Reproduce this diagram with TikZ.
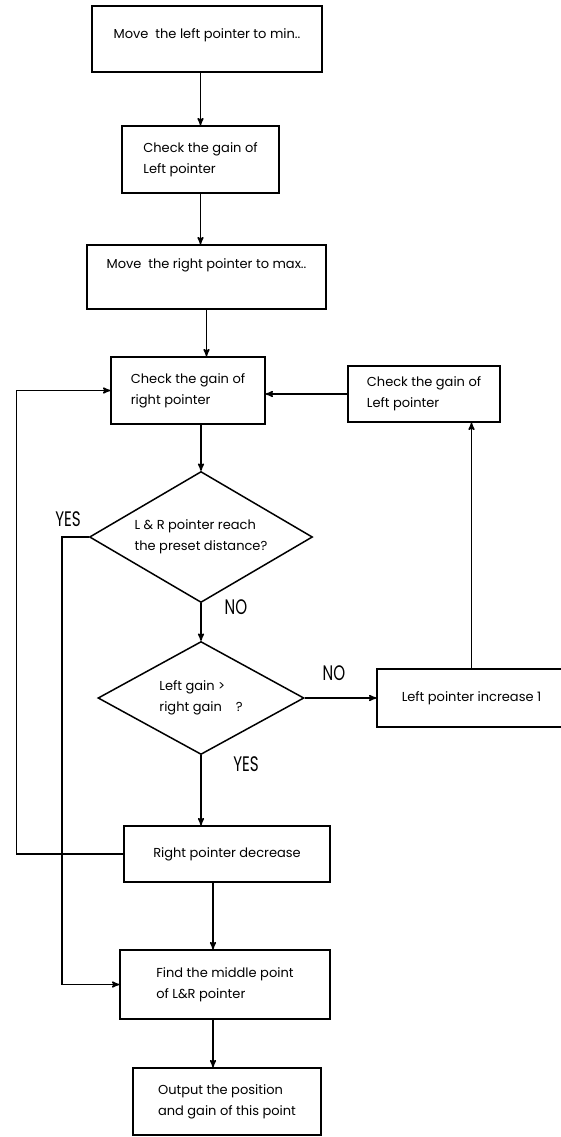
\documentclass[tikz,border=0pt]{standalone}
\usepackage{fontspec}
\setmainfont{Poppins}
\usetikzlibrary{arrows}
\usetikzlibrary{shapes.geometric}

\tikzset{
 blk/.style={draw, line width=1.5pt, align=left, inner sep=0pt, font=\fontsize{13}{21}\selectfont},
 dec/.style={draw, diamond, aspect=1.7, line width=1.5pt, align=left, inner sep=0pt, font=\fontsize{13}{21}\selectfont},
 ans/.style={font=\fontsize{21}{21}\selectfont},
 flow/.style={line width=1.5pt, ->, >=stealth'}
}

\begin{document}
\begin{tikzpicture} [x=1pt, y=-1pt]
\useasboundingbox (0,0) rectangle (561,1137);
% main column
\node[blk, minimum width=230, minimum height=66] (b1) at (207,39) {Move~~the left pointer to min..\\[-16pt] \strut};
\node[blk, minimum width=157, minimum height=67] (b2) at (200.5,159.5) {Check the gain of\\Left pointer};
\node[blk, minimum width=239, minimum height=64] (b3) at (206.5,277) {Move~~the right pointer to max..\\ \strut};
\node[blk, minimum width=154, minimum height=67] (b4) at (188,390.5) {Check the gain of\\right pointer};
\node[blk, minimum width=152, minimum height=56] (b5) at (424,394) {Check the gain of\\Left pointer};
\node[dec, minimum width=223, minimum height=131] (d1) at (201,537) {L \& R pointer reach\\the preset distance?};
\node[dec, minimum width=206, minimum height=113] (d2) at (201,698) {Left gain >\\right gain~~~~?};
\node[blk, minimum width=189, minimum height=58] (b6) at (471.5,698) {Left pointer increase 1};
\node[blk, minimum width=206, minimum height=56] (b7) at (227,854) {Right pointer decrease};
\node[blk, minimum width=210, minimum height=69] (b8) at (225,984.5) {Find the middle point\\of L\&R pointer};
\node[blk, minimum width=188, minimum height=67] (b9) at (227,1101.5) {Output the position\\and gain of this point};
% yes / no
\node[ans] (y1) at (68,519) {\scalebox{.72}[1]{YES}};
\node[ans] (n1) at (236,607) {\scalebox{.72}[1]{NO}};
\node[ans] (n2) at (334,673) {\scalebox{.72}[1]{NO}};
\node[ans] (y2) at (246,764) {\scalebox{.72}[1]{YES}};
% connectors
\draw[flow] (b2.north |- b1.south) -- (b2.north);
\draw[flow] (b2.south) -- (b2.south |- b3.north);
\draw[flow] (b3.south) -- (b3.south |- b4.north);
\draw[flow] (b4.south -| d1.north) -- (d1.north);
\draw[flow] (d1.south) -- (d2.north);
\draw[flow] (d2.south) -- (d2.south |- b7.north);
\draw[flow] ([xshift=-14]b7.south) -- ([xshift=-14]b7.south |- b8.north);
\draw[flow] ([xshift=-12]b8.south) -- ([xshift=-12]b8.south |- b9.north);
\draw[flow] (d2.east) -- (b6.west);
\draw[flow] (b6.north) -- (b6.north |- b5.south);
\draw[flow] (b5.west) -- (b5.west -| b4.east);
\draw[flow] (b7.west) -- ++(-107,0) |- (b4.west);
\draw[flow] (d1.west) -- ++(-27,0) |- (b8.west);
\end{tikzpicture}
\end{document}
